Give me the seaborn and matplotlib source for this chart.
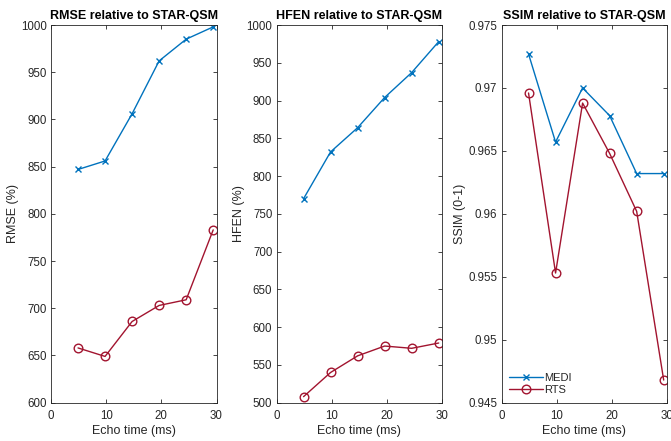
import matplotlib
matplotlib.use("Agg")
import matplotlib.pyplot as plt
import seaborn as sns
import pandas as pd

echo_times = [4.9, 9.8, 14.7, 19.6, 24.5, 29.4]
rmse_medi = [847, 856, 906, 962, 985, 998]
rmse_rts = [658, 649, 686, 703, 709, 783]
hfen_medi = [770, 832, 864, 904, 937, 978]
hfen_rts = [508, 540, 562, 575, 572, 579]
ssim_medi = [0.9727, 0.9657, 0.9700, 0.9678, 0.9632, 0.9632]
ssim_rts = [0.9696, 0.9553, 0.9688, 0.9648, 0.9602, 0.9468]
methods = ["MEDI", "RTS"]
titles = ["RMSE relative to STAR-QSM", "HFEN relative to STAR-QSM", "SSIM relative to STAR-QSM"]
ylabels = ["RMSE (%)", "HFEN (%)", "SSIM (0-1)"]
ylims = [(600, 1000), (500, 1000), (0.945, 0.975)]
yticks = [
    [600, 650, 700, 750, 800, 850, 900, 950, 1000],
    [500, 550, 600, 650, 700, 750, 800, 850, 900, 950, 1000],
    [0.945, 0.95, 0.955, 0.96, 0.965, 0.97, 0.975],
]
ytick_labels = [
    [str(v) for v in yticks[0]],
    [str(v) for v in yticks[1]],
    ["0.945", "0.95", "0.955", "0.96", "0.965", "0.97", "0.975"],
]

sns.set_style("ticks")
plt.rcParams["font.family"] = ["Liberation Sans", "DejaVu Sans"]
plt.rcParams["xtick.direction"] = "in"
plt.rcParams["ytick.direction"] = "in"

colors = {"MEDI": "#0072BD", "RTS": "#A2142F"}
markers = {"MEDI": "x", "RTS": "o"}

W, H = 671, 441
fig = plt.figure(figsize=(W / 100, H / 100), dpi=100)

lefts = [51, 276.5, 501.5]
aw = 165.5
top, bottom = 25, 402.7

series = [(rmse_medi, rmse_rts), (hfen_medi, hfen_rts), (ssim_medi, ssim_rts)]
tc = "#262626"
for i in range(3):
    ax = fig.add_axes([lefts[i] / W, 1 - bottom / H, aw / W, (bottom - top) / H])
    medi, rts = series[i]
    df = pd.DataFrame({
        "t": echo_times * 2,
        "v": list(medi) + list(rts),
        "m": ["MEDI"] * 6 + ["RTS"] * 6,
    })
    for m in methods:
        sub = df[df["m"] == m]
        sns.lineplot(data=sub, x="t", y="v", ax=ax, color=colors[m], marker=markers[m],
                     markersize=(4.5 if m == "MEDI" else 6.2),
                     markerfacecolor="none" if m == "RTS" else colors[m],
                     markeredgecolor=colors[m], markeredgewidth=1.0,
                     linewidth=1.0, label=m, legend=False)
    ax.set_xlim(0, 30)
    ax.set_ylim(*ylims[i])
    ax.set_xticks([0, 10, 20, 30])
    ax.set_xticklabels(["0", "10", "20", "30"])
    ax.set_yticks(yticks[i])
    ax.set_yticklabels(ytick_labels[i])
    ax.tick_params(axis="both", which="both", direction="in", top=True, right=True,
                   length=3, width=0.6, labelsize=8.3, colors=tc, pad=3)
    ax.tick_params(axis="x", pad=5)
    for s in ax.spines.values():
        s.set_color(tc)
        s.set_linewidth(0.6)
        s.set_visible(True)
    ax.set_xlabel("Echo time (ms)", fontsize=9, color=tc, labelpad=2.5)
    ax.set_ylabel(ylabels[i], fontsize=9, color=tc, labelpad=1.4)
    ax.set_title(titles[i], fontsize=9, fontweight="bold", color="black", pad=4)
    if i == 2:
        handles, labels = ax.get_legend_handles_labels()
        leg = ax.legend(handles, labels, loc="lower left", frameon=False, fontsize=8,
                        handlelength=3.0, borderaxespad=0.5, labelspacing=0.15,
                        handletextpad=0.1, borderpad=0.2)
        for t in leg.get_texts():
            t.set_color(tc)

fig.savefig("out.png", dpi=100, facecolor="white")
